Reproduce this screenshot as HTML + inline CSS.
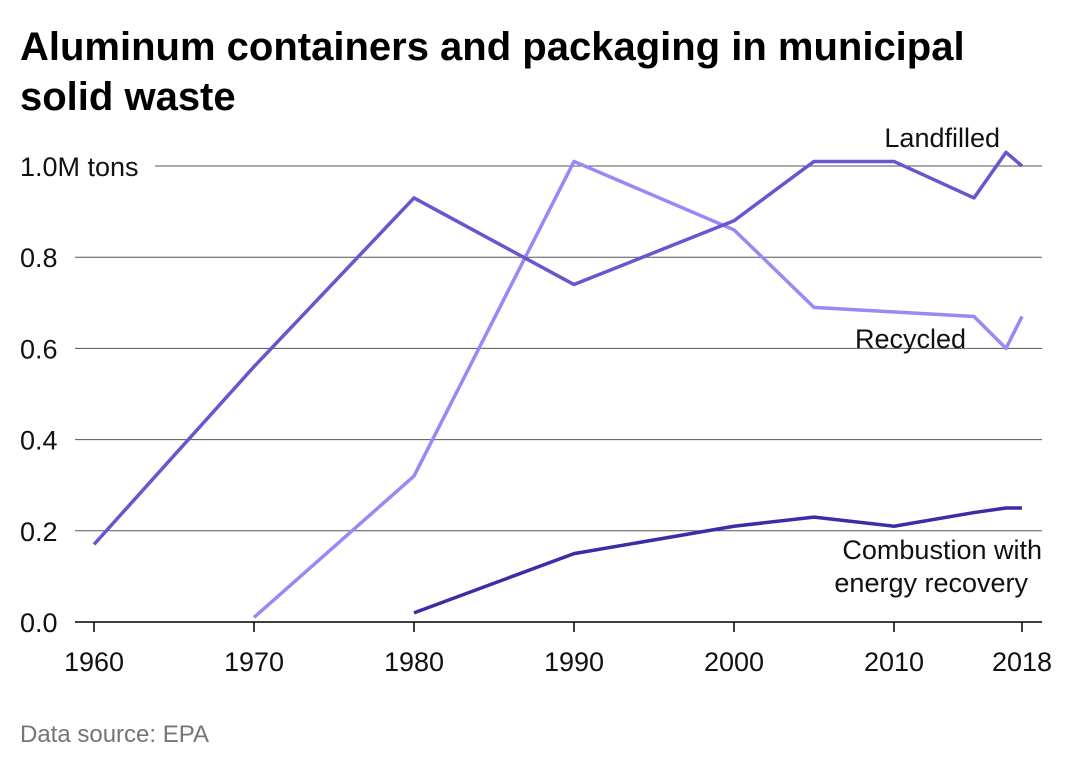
<!DOCTYPE html>
<html><head><meta charset="utf-8"><style>
body{margin:0;background:#fff;font-family:"Liberation Sans",sans-serif;}
#wrap{position:relative;width:1080px;height:770px;overflow:hidden;}
h1{position:absolute;left:20px;top:22px;margin:0;font-size:40px;line-height:50px;font-weight:bold;color:#000;width:1000px;}
#src{position:absolute;left:20px;top:721px;font-size:24px;color:#757575}
</style></head><body>
<div id="wrap">
<h1>Aluminum containers and packaging in municipal<br>solid waste</h1>
<svg id="chart" width="1080" height="770" style="position:absolute;left:0;top:0"></svg>
<div id="src">Data source: EPA</div>
</div>
<script>
const landYears=[1960,1970,1980,1990,2000,2005,2010,2015,2017,2018];
const landVals=[0.17,0.56,0.93,0.74,0.88,1.01,1.01,0.93,1.03,1.0];
const recYears=[1970,1980,1990,2000,2005,2015,2017,2018];
const recVals=[0.01,0.32,1.01,0.86,0.69,0.67,0.60,0.67];
const combYears=[1980,1990,2000,2005,2010,2015,2017,2018];
const combVals=[0.02,0.15,0.21,0.23,0.21,0.24,0.25,0.25];
const yTicks=[0,0.2,0.4,0.6,0.8,1.0];
const yTickLabels=["0.0","0.2","0.4","0.6","0.8","1.0M tons"];
const xTicks=[1960,1970,1980,1990,2000,2010,2018];
const NS="http://www.w3.org/2000/svg";
const svg=document.getElementById('chart');
const x=v=>94+(v-1960)*16;
const y=v=>622-v*456;
function mk(t,a){const e=document.createElementNS(NS,t);for(const k in a)e.setAttribute(k,a[k]);svg.appendChild(e);return e;}
yTicks.forEach((t,i)=>{
  const last=i===yTicks.length-1;
  const l=mk('line',{x1:last?155:75,x2:1042,y1:y(t),y2:y(t),stroke:i===0?'#000':'#555','stroke-width':i===0?1.5:1});
  
  
  const tx=mk('text',{x:20,y:y(t)+10,'font-size':27,fill:'#111'});
  tx.textContent=yTickLabels[i];
  
  
});
xTicks.forEach(t=>{
  const l=mk('line',{x1:x(t),x2:x(t),y1:622,y2:632,stroke:'#000','stroke-width':1.5});
  
  
  const tx=mk('text',{x:x(t),y:671,'font-size':27,fill:'#111','text-anchor':'middle'});
  tx.textContent=t;
  
  
});
function line(ys,vs,color,name){
  const p=mk('polyline',{points:ys.map((yr,i)=>x(yr)+','+y(vs[i])).join(' '),fill:'none',stroke:color,'stroke-width':3.5,'stroke-linejoin':'round'});
  
  
}
line(recYears,recVals,'#9b87f5','recycled-line');
line(landYears,landVals,'#6a55d0','landfilled-line');
line(combYears,combVals,'#3a2ea6','combustion-line');
function lab(t,xx,yy,name){const e=mk('text',{x:xx,y:yy,'font-size':27,fill:'#111','text-anchor':'end'});e.textContent=t;

}
lab('Landfilled',1000,147,'landfilled-label');
lab('Recycled',966,348,'recycled-label');
lab('Combustion with',1042,559,'combustion-label');
lab('energy recovery',1028,592,'combustion-label-line2');
</script>
</body></html>
